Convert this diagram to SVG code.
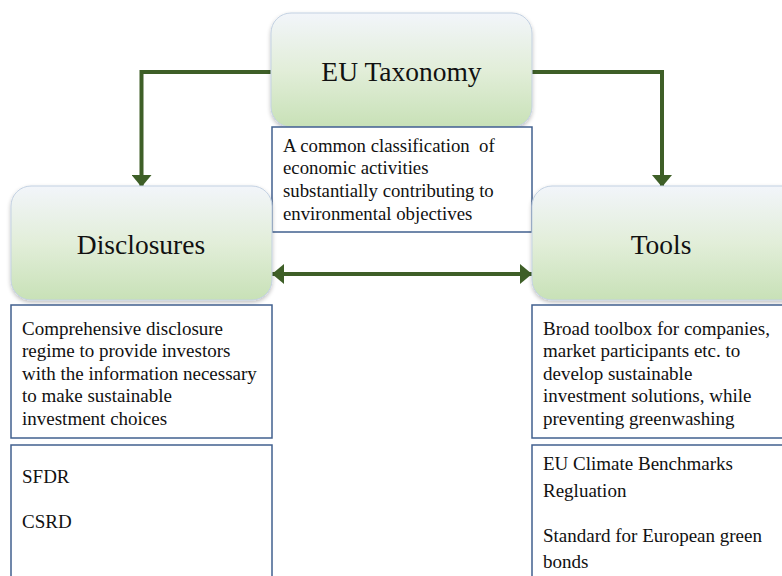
<svg xmlns="http://www.w3.org/2000/svg" width="782" height="576" viewBox="0 0 782 576">
<defs>
<linearGradient id="g" x1="0" y1="0" x2="0" y2="1">
<stop offset="0" stop-color="#F2F5FA"/>
<stop offset="0.5" stop-color="#E2EED9"/>
<stop offset="1" stop-color="#C8E1B7"/>
</linearGradient>
<filter id="sh" x="-10%" y="-10%" width="120%" height="130%">
<feGaussianBlur in="SourceAlpha" stdDeviation="2"/>
<feOffset dy="2" result="o"/>
<feComponentTransfer><feFuncA type="linear" slope="0.25"/></feComponentTransfer>
<feMerge><feMergeNode/><feMergeNode in="SourceGraphic"/></feMerge>
</filter>
<marker id="ah" viewBox="0 0 12 20" refX="12" refY="10" markerWidth="12" markerHeight="20" orient="auto-start-reverse" markerUnits="userSpaceOnUse">
<path d="M0,0 L12,10 L0,20 Z" fill="#3E5F27"/>
</marker>
</defs>
<style>
.hd{fill:url(#g);stroke:#C3D1E2;stroke-width:1;filter:url(#sh)}
.tb{fill:#fff;stroke:#41608F;stroke-width:1.5}
.c{fill:none;stroke:#3E5F27;stroke-width:4}
</style>
<rect width="782" height="576" fill="#fff"/>
<g id="connectors">
<path class="c" d="M271,72 H141.5 V187" marker-end="url(#ah)"/>
<path class="c" d="M532,72 H662 V187" marker-end="url(#ah)"/>
<path class="c" d="M272,274 H532" marker-start="url(#ah)" marker-end="url(#ah)"/>
</g>
<g font-family="'Liberation Serif', 'Times New Roman', serif" fill="#111">
<g id="eu-taxonomy">
<rect class="hd" x="271" y="13" width="261" height="114" rx="20"/>
<text font-size="27.5" x="401.5" y="81" text-anchor="middle">EU Taxonomy</text>
</g>
<g id="taxonomy-desc" font-size="18.8">
<rect class="tb" x="272" y="127" width="260" height="105"/>
<text x="283" y="152" style="white-space:pre">A common classification  of</text>
<text x="283" y="174">economic activities</text>
<text x="283" y="197">substantially contributing to</text>
<text x="283" y="220">environmental objectives</text>
</g>
<g id="disclosures">
<rect class="hd" x="11" y="186" width="261" height="114" rx="20"/>
<text font-size="27.5" x="141" y="254" text-anchor="middle">Disclosures</text>
</g>
<g id="tools">
<rect class="hd" x="532" y="186" width="270" height="114" rx="20"/>
<text font-size="27.5" x="661" y="254" text-anchor="middle">Tools</text>
</g>
<g id="disclosures-desc" font-size="19">
<rect class="tb" x="11" y="305" width="261" height="133"/>
<text x="22" y="335">Comprehensive disclosure</text>
<text x="22" y="357">regime to provide investors</text>
<text x="22" y="380">with the information necessary</text>
<text x="22" y="402">to make sustainable</text>
<text x="22" y="425">investment choices</text>
</g>
<g id="disclosures-list" font-size="19">
<rect class="tb" x="11" y="445" width="261" height="140"/>
<text x="22" y="483">SFDR</text>
<text x="22" y="528">CSRD</text>
</g>
<g id="tools-desc" font-size="19">
<rect class="tb" x="532" y="305" width="260" height="133"/>
<text x="543" y="335">Broad toolbox for companies,</text>
<text x="543" y="357">market participants etc. to</text>
<text x="543" y="380">develop sustainable</text>
<text x="543" y="402">investment solutions, while</text>
<text x="543" y="425">preventing greenwashing</text>
</g>
<g id="tools-list" font-size="19">
<rect class="tb" x="532" y="445" width="260" height="140"/>
<text x="543" y="470">EU Climate Benchmarks</text>
<text x="543" y="497">Regluation</text>
<text x="543" y="542">Standard for European green</text>
<text x="543" y="568">bonds</text>
</g>
</g>
</svg>
